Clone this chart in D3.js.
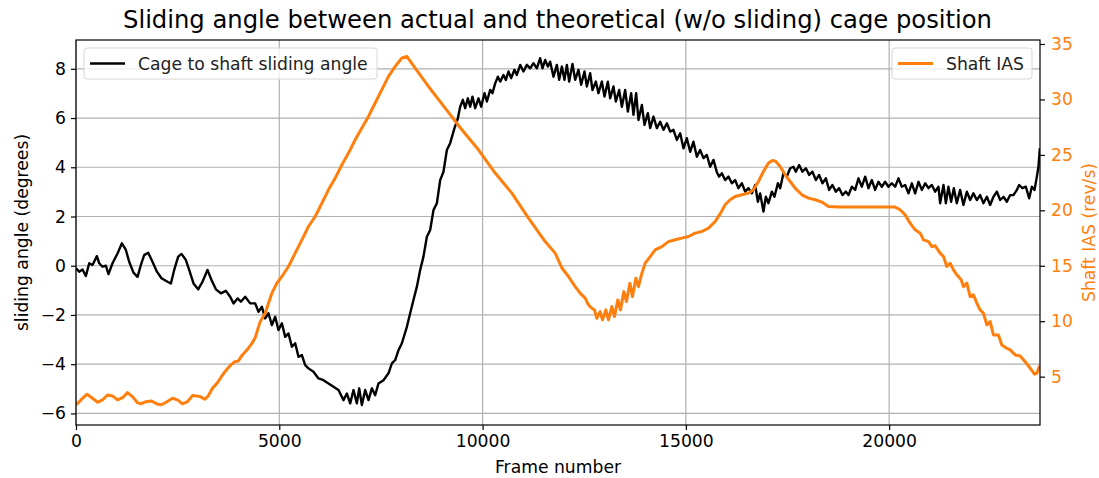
<!DOCTYPE html>
<html>
<head>
<meta charset="utf-8">
<script src="https://cdn.jsdelivr.net/npm/d3@7"></script>
<style>
  body { margin: 0; background: #fff; }
  svg { display: block; font-family: "DejaVu Sans", sans-serif; }
</style>
</head>
<body>
<script>
let angleFrames = [0, 79, 160, 243, 325, 406, 514, 571, 652, 735, 799, 898, 1021, 1129, 1227, 1308, 1414, 1513, 1596, 1677,
    1776, 1881, 1990, 2103, 2250, 2334, 2415, 2514, 2595, 2703, 2784, 2890, 3005, 3111, 3234, 3333, 3441, 3564, 3687, 3792,
    3874, 3972, 4056, 4161, 4284, 4407, 4488, 4572, 4653, 4734, 4818, 4899, 4980, 5064, 5145, 5226, 5310, 5391, 5472, 5556,
    5637, 5718, 5841, 5964, 6087, 6210, 6333, 6456, 6579, 6662, 6744, 6825, 6908, 6965, 7031, 7113, 7194, 7277, 7358, 7440,
    7563, 7686, 7769, 7851, 7932, 8015, 8138, 8219, 8300, 8384, 8465, 8546, 8630, 8711, 8792, 8876, 8957, 9038, 9122, 9203,
    9309, 9392, 9449, 9515, 9572, 9638, 9695, 9751, 9818, 9899, 9965, 10047, 10106, 10187, 10243, 10310, 10376, 10433, 10514, 10573,
    10637, 10703, 10784, 10843, 10925, 11006, 11089, 11171, 11252, 11335, 11416, 11473, 11539, 11606, 11662, 11744, 11827, 11884, 11950, 12014,
    12073, 12130, 12211, 12277, 12358, 12425, 12506, 12565, 12646, 12703, 12786, 12850, 12934, 12998, 13081, 13138, 13219, 13278, 13359, 13426,
    13507, 13573, 13654, 13711, 13777, 13834, 13918, 13982, 14065, 14122, 14203, 14287, 14368, 14449, 14533, 14614, 14695, 14778, 14860, 14941,
    15024, 15106, 15187, 15270, 15351, 15433, 15516, 15597, 15679, 15762, 15818, 15885, 15966, 16047, 16131, 16212, 16293, 16377, 16458, 16539,
    16623, 16704, 16771, 16827, 16908, 16967, 17031, 17115, 17179, 17263, 17319, 17400, 17484, 17565, 17646, 17705, 17786, 17867, 17951, 18032,
    18113, 18197, 18278, 18359, 18443, 18524, 18605, 18689, 18770, 18851, 18935, 18999, 19082, 19164, 19245, 19328, 19410, 19491, 19574, 19655,
    19736, 19819, 19901, 19982, 20066, 20147, 20229, 20312, 20393, 20475, 20558, 20640, 20721, 20804, 20886, 20967, 21050, 21132, 21213, 21254,
    21336, 21394, 21458, 21524, 21591, 21664, 21746, 21827, 21911, 21992, 22073, 22157, 22238, 22319, 22403, 22484, 22565, 22649, 22730, 22811,
    22895, 22976, 23057, 23141, 23197, 23278, 23362, 23443, 23510, 23575, 23633, 23672, 23706];

let angleValues = [-0.1, -0.24, -0.15, -0.42, 0.1, 0.03, 0.39, 0.1, -0.04, 0, -0.34, 0.1, 0.5, 0.91, 0.64, 0.16, -0.28, -0.45, 0.03, 0.43,
    0.53, 0.16, -0.24, -0.51, -0.65, -0.72, -0.17, 0.37, 0.48, 0.23, -0.17, -0.72, -0.96, -0.65, -0.17, -0.58, -0.96, -1.12, -1.02, -1.26,
    -1.53, -1.33, -1.46, -1.26, -1.53, -1.53, -1.87, -1.67, -2.14, -1.93, -2.41, -2.07, -2.61, -2.34, -2.89, -2.75, -3.29, -3.15, -3.7, -3.63,
    -4.04, -4.17, -4.31, -4.58, -4.65, -4.78, -4.92, -5.05, -5.46, -5.19, -5.59, -5.05, -5.59, -4.98, -5.66, -5.05, -5.46, -4.98, -5.26, -4.78,
    -4.65, -4.37, -3.97, -3.83, -3.43, -3.15, -2.48, -1.93, -1.39, -0.85, -0.17, 0.37, 1.18, 1.45, 2.26, 2.54, 3.48, 3.82, 4.7, 4.98,
    5.59, 5.99, 6.46, 6.74, 6.4, 6.8, 6.46, 6.87, 6.4, 6.8, 6.46, 7.01, 6.67, 7.14, 7.01, 7.41, 7.68, 7.48, 7.75, 7.55,
    7.89, 7.62, 7.96, 7.75, 8.16, 7.89, 8.16, 8.02, 8.23, 8.02, 8.43, 8.02, 8.36, 8.09, 8.29, 7.68, 8.16, 7.55, 8.09, 7.55,
    8.16, 7.48, 8.2, 7.55, 7.96, 7.35, 7.89, 7.28, 7.82, 7.14, 7.48, 7.01, 7.48, 6.87, 7.48, 6.8, 7.28, 6.67, 7.14, 6.46,
    7.14, 6.26, 7.01, 6.13, 7.01, 5.92, 6.53, 5.72, 6.2, 5.59, 6.06, 5.59, 5.85, 5.52, 5.79, 5.45, 5.52, 5.11, 5.38, 4.77,
    5.18, 4.63, 5.04, 4.43, 4.7, 4.37, 4.5, 4.02, 4.3, 3.8, 3.62, 3.76, 3.48, 3.62, 3.35, 3.48, 3.15, 3.35, 3.01, 3.15,
    2.94, 3.28, 2.6, 2.94, 2.2, 2.8, 2.54, 3.01, 2.8, 3.35, 3.15, 3.76, 3.62, 3.96, 4.02, 3.82, 4.09, 3.82, 3.96, 3.69,
    3.82, 3.48, 3.69, 3.35, 3.55, 3.08, 3.28, 3.01, 3.15, 2.87, 3.01, 2.87, 3.21, 3.08, 3.55, 3.21, 3.62, 3.15, 3.48, 3.08,
    3.41, 3.21, 3.41, 3.21, 3.35, 3.21, 3.55, 3.21, 3.28, 2.94, 3.35, 2.94, 3.41, 3.08, 3.35, 3.15, 3.28, 3.01, 3.21, 2.54,
    3.28, 2.54, 3.21, 2.6, 3.15, 2.54, 3.08, 2.47, 3.01, 2.67, 2.94, 2.67, 2.87, 2.54, 2.8, 2.47, 2.8, 3.01, 2.67, 2.8,
    2.6, 2.87, 2.87, 3.08, 3.28, 3.15, 3.21, 2.74, 3.21, 3.08, 3.62, 4.02, 4.77];

let iasFrames = [0, 121, 268, 406, 529, 652, 775, 898, 1021, 1144, 1267, 1390, 1513, 1596, 1719, 1857, 1990, 2103, 2236, 2373,
    2496, 2619, 2742, 2865, 2973, 3055, 3170, 3251, 3357, 3480, 3603, 3711, 3810, 3908, 3989, 4080, 4203, 4326, 4407, 4530,
    4653, 4734, 4818, 4941, 5064, 5226, 5391, 5556, 5718, 5883, 6048, 6210, 6375, 6540, 6702, 6867, 7031, 7194, 7358, 7523,
    7686, 7851, 8015, 8138, 8342, 8669, 9080, 9491, 9899, 10310, 10720, 11129, 11539, 11785, 11950, 12113, 12277, 12400, 12523, 12604,
    12688, 12752, 12811, 12892, 12949, 13032, 13096, 13180, 13244, 13327, 13391, 13475, 13539, 13623, 13687, 13770, 13834, 13918, 13999, 14122,
    14245, 14410, 14572, 14737, 14902, 15064, 15229, 15393, 15556, 15721, 15843, 15966, 16089, 16212, 16377, 16539, 16662, 16785, 16908, 17031,
    17130, 17213, 17319, 17442, 17565, 17688, 17853, 18015, 18180, 18345, 18507, 18753, 20147, 20270, 20393, 20516, 20640, 20763, 20844, 20967,
    21050, 21132, 21254, 21336, 21418, 21500, 21582, 21664, 21771, 21827, 21911, 21992, 22073, 22157, 22238, 22319, 22403, 22484, 22565, 22688,
    22771, 22895, 22976, 23099, 23222, 23345, 23468, 23575, 23633, 23697];

let iasValues = [2.45, 2.9, 3.41, 3.05, 2.69, 2.9, 3.35, 3.26, 2.9, 3.1, 3.56, 3.2, 2.65, 2.54, 2.74, 2.81, 2.54, 2.47, 2.74, 3.05,
    2.9, 2.54, 2.74, 3.29, 3.26, 3.2, 2.96, 3.26, 3.95, 4.46, 5.15, 5.67, 6.06, 6.35, 6.4, 6.9, 7.4, 8.0, 8.5, 9.96,
    10.72, 11.62, 12.53, 13.43, 14.03, 14.93, 16.14, 17.34, 18.54, 19.44, 20.65, 21.85, 22.91, 24.11, 25.16, 26.36, 27.42, 28.47, 29.68, 30.88,
    32.08, 32.98, 33.74, 33.88, 32.83, 31.17, 29.22, 27.27, 25.46, 23.36, 21.55, 19.3, 17.18, 16.14, 14.8, 14.03, 13.12, 12.53, 12.08, 11.47,
    11.17, 11.02, 10.27, 10.87, 10.12, 11.02, 10.12, 11.32, 10.42, 11.92, 11.02, 12.67, 11.77, 13.43, 12.22, 13.88, 13.12, 14.33, 15.23, 15.83,
    16.44, 16.73, 17.18, 17.34, 17.49, 17.64, 17.94, 18.09, 18.39, 18.99, 19.68, 20.5, 20.95, 21.25, 21.4, 21.55, 21.85, 22.6, 23.5, 24.26,
    24.5, 24.41, 23.95, 23.2, 22.6, 22.0, 21.4, 21.1, 20.95, 20.74, 20.34, 20.29, 20.29, 20.05, 19.59, 18.84, 18.24, 17.94, 17.34, 17.18,
    16.73, 16.8, 16.14, 15.83, 14.93, 15.23, 14.63, 14.18, 13.73, 13.12, 13.43, 12.22, 12.37, 11.62, 11.02, 10.72, 9.67, 9.96, 8.76, 8.76,
    7.86, 7.56, 7.41, 6.96, 6.87, 6.35, 5.76, 5.22, 5.3, 5.97];

let xTicks = [0, 5000, 10000, 15000, 20000];
let angleTicks = [-6, -4, -2, 0, 2, 4, 6, 8];
let iasTicks = [5, 10, 15, 20, 25, 30, 35];

let width = 1099, height = 478;
let margin = {left: 76, right: 59, top: 40, bottom: 53};
let innerW = width - margin.left - margin.right;
let innerH = height - margin.top - margin.bottom;
let orange = '#ff7f0e';

let svg = d3.select('body').append('svg')
    .attr('width', width)
    .attr('height', height);

let x = d3.scaleLinear().domain([0, 23710]).range([0, innerW]);
let yAngle = d3.scaleLinear().domain([-6.47, 9.17]).range([innerH, 0]);
let yIas = d3.scaleLinear().domain([0.64, 35.36]).range([innerH, 0]);

let g = svg.append('g').attr('transform', `translate(${margin.left},${margin.top})`);

// grid
g.append('g').selectAll('line').data(xTicks).enter().append('line')
    .attr('x1', d => x(d)).attr('x2', d => x(d))
    .attr('y1', 0).attr('y2', innerH)
    .attr('stroke', '#b0b0b0').attr('stroke-width', 1.2);
g.append('g').selectAll('line').data(angleTicks).enter().append('line')
    .attr('x1', 0).attr('x2', innerW)
    .attr('y1', d => yAngle(d)).attr('y2', d => yAngle(d))
    .attr('stroke', '#b0b0b0').attr('stroke-width', 1.2);

g.append('defs').append('clipPath').attr('id', 'clip')
    .append('rect').attr('width', innerW).attr('height', innerH);

let angleLine = d3.line()
    .x((d, i) => x(angleFrames[i]))
    .y(d => yAngle(d));
let iasLine = d3.line()
    .x((d, i) => x(iasFrames[i]))
    .y(d => yIas(d));

g.append('path').datum(angleValues)
    .attr('clip-path', 'url(#clip)')
    .attr('d', angleLine)
    .attr('fill', 'none').attr('stroke', '#000').attr('stroke-width', 2.4)
    .attr('stroke-linejoin', 'round');

g.append('path').datum(iasValues)
    .attr('clip-path', 'url(#clip)')
    .attr('d', iasLine)
    .attr('fill', 'none').attr('stroke', orange).attr('stroke-width', 3)
    .attr('stroke-linejoin', 'round');

// axes
let fontSize = 17.2;
let xAxis = g.append('g').attr('transform', `translate(0,${innerH})`)
    .call(d3.axisBottom(x).tickValues(xTicks).tickFormat(d3.format('d')).tickSize(5).tickPadding(5));
let leftAxis = g.append('g')
    .call(d3.axisLeft(yAngle).tickValues(angleTicks).tickFormat(d => d3.format('d')(d)).tickSize(5).tickPadding(5));
let rightAxis = g.append('g').attr('transform', `translate(${innerW},0)`)
    .call(d3.axisRight(yIas).tickValues(iasTicks).tickFormat(d3.format('d')).tickSize(5).tickPadding(6));

[xAxis, leftAxis, rightAxis].forEach(a => {
    a.select('.domain').remove();
    a.selectAll('line').attr('stroke', '#000').attr('stroke-width', 1.2);
    a.selectAll('text').attr('font-size', fontSize).attr('font-family', 'DejaVu Sans').attr('fill', '#000');
});
rightAxis.selectAll('text').attr('fill', orange);

g.append('rect')
    .attr('width', innerW).attr('height', innerH)
    .attr('fill', 'none').attr('stroke', '#000').attr('stroke-width', 1.2);

// labels
svg.append('text').text('Sliding angle between actual and theoretical (w/o sliding) cage position')
    .attr('x', margin.left + innerW / 2 - 0.5).attr('y', 28)
    .attr('text-anchor', 'middle').attr('font-size', 24).attr('fill', '#000')
    .attr('textLength', 869).attr('lengthAdjust', 'spacingAndGlyphs');

svg.append('text').text('Frame number')
    .attr('x', margin.left + innerW / 2).attr('y', 473)
    .attr('text-anchor', 'middle').attr('font-size', fontSize).attr('fill', '#000');

svg.append('text').text('sliding angle (degrees)')
    .attr('transform', `translate(28,${margin.top + innerH / 2}) rotate(-90)`)
    .attr('text-anchor', 'middle').attr('font-size', fontSize).attr('fill', '#000');

svg.append('text').text('Shaft IAS (rev/s)')
    .attr('transform', `translate(1095,${margin.top + innerH / 2}) rotate(-90)`)
    .attr('text-anchor', 'middle').attr('font-size', fontSize).attr('fill', orange);

// legends
let legends = [
    {label: 'Cage to shaft sliding angle', color: '#000', x: 84, w: 293, sw: 2.4},
    {label: 'Shaft IAS', color: orange, x: 892, w: 140, sw: 3}
];
let leg = svg.selectAll('.legend').data(legends).enter().append('g')
    .attr('class', 'legend')
    .attr('transform', d => `translate(${d.x},48)`);
leg.append('rect')
    .attr('width', d => d.w).attr('height', 31).attr('rx', 3)
    .attr('fill', 'rgba(255,255,255,0.8)').attr('stroke', '#d6d6d6');
leg.append('line')
    .attr('x1', 6).attr('x2', 41).attr('y1', 15.5).attr('y2', 15.5)
    .attr('stroke', d => d.color).attr('stroke-width', d => d.sw);
leg.append('text').text(d => d.label)
    .attr('x', 54).attr('y', 21.5)
    .attr('font-size', fontSize).attr('fill', '#222');
</script>
</body>
</html>
